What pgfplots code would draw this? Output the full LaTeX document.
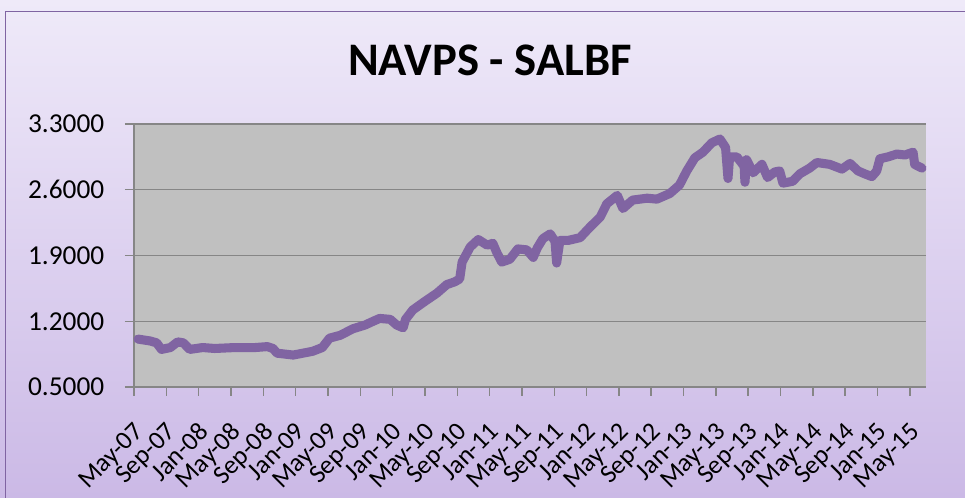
\documentclass[border=0pt]{standalone}
\usepackage{pgfplots}
\pgfplotsset{compat=1.18}
\usepackage{fontspec}
\setmainfont{Carlito}
\definecolor{bgtop}{HTML}{EFEAF9}
\definecolor{bgbot}{HTML}{CBB9E6}
\definecolor{framec}{HTML}{8064A2}
\definecolor{plotbg}{HTML}{C0C0C0}
\definecolor{gridc}{HTML}{868686}
\definecolor{linec}{HTML}{8064A2}
\begin{document}
\begin{tikzpicture}
\useasboundingbox (0,0) rectangle (723.75pt,373.5pt);
\clip (0,0) rectangle (723.75pt,373.5pt);
\shade[top color=bgtop,bottom color=bgbot] (0,0) rectangle (723.75pt,373.5pt);
\draw[framec, line width=1.3pt] (4.1pt,-15pt) rectangle (745pt,364.9pt);
\node[font=\bfseries\fontsize{35}{40}\selectfont] at (367.5pt,328.5pt) {NAVPS - SALBF};
\begin{axis}[
  at={(100.5pt,83.25pt)}, anchor=south west,
  scale only axis, width=594pt, height=197.25pt,
  xmin=0, xmax=98, ymin=0.5, ymax=3.3,
  axis background/.style={fill=plotbg},
  axis x line*=bottom, axis y line*=left,
  axis line style={gridc, line width=1.1pt},
  tick style={gridc, line width=1.1pt},
  tick align=outside, major tick length=6.75pt,
  ytick={0.5,1.2,1.9,2.6,3.3},
  ymajorgrids, grid style={gridc, line width=1.1pt},
  xtick={0,4,...,96},
  xticklabels={May-07,Sep-07,Jan-08,May-08,Sep-08,Jan-09,May-09,Sep-09,Jan-10,May-10,Sep-10,Jan-11,May-11,Sep-11,Jan-12,May-12,Sep-12,Jan-13,May-13,Sep-13,Jan-14,May-14,Sep-14,Jan-15,May-15},
  x tick label style={yshift=-18.5pt, xshift=-1pt, rotate=45, anchor=north east, inner sep=0pt, font=\fontsize{19.5}{23}\selectfont},
  y tick label style={font=\fontsize{20.5}{23}\selectfont, xshift=-12pt},
  /pgf/number format/assume math mode=true,
  yticklabel style={/pgf/number format/.cd, fixed, fixed zerofill, precision=4},
  clip=false,
]
\addplot[linec, line width=6.8pt, line join=round, line cap=round] table {
x y
0.5 1.01
2.0 0.99
2.8 0.97
3.4 0.90
4.5 0.92
5.4 0.98
6.1 0.97
6.9 0.90
8.5 0.92
10.0 0.91
12.5 0.92
15.0 0.92
16.5 0.93
17.2 0.91
17.7 0.86
19.7 0.84
22.1 0.88
23.3 0.92
24.2 1.02
25.5 1.05
27.1 1.12
28.6 1.16
29.6 1.20
30.4 1.23
31.7 1.22
32.5 1.16
33.3 1.13
33.6 1.22
34.5 1.32
35.8 1.40
37.5 1.50
38.7 1.59
39.7 1.62
40.3 1.65
40.6 1.83
41.6 1.99
42.6 2.07
43.7 2.01
44.4 2.03
44.9 1.93
45.5 1.83
46.5 1.86
47.5 1.97
48.6 1.96
49.4 1.88
49.9 1.98
50.6 2.08
51.5 2.13
52.1 2.05
52.3 1.82
52.7 2.06
53.7 2.06
55.2 2.09
56.4 2.20
57.7 2.31
58.5 2.45
59.8 2.54
60.5 2.40
61.7 2.49
63.5 2.51
64.7 2.50
66.3 2.56
67.5 2.65
68.4 2.80
69.4 2.94
70.4 3.00
71.5 3.10
72.5 3.14
73.2 3.05
73.5 2.72
73.7 2.95
74.6 2.95
75.5 2.85
75.6 2.68
75.8 2.92
76.6 2.78
77.7 2.87
78.4 2.73
79.3 2.79
79.9 2.80
80.3 2.67
81.5 2.69
82.4 2.77
83.6 2.83
84.5 2.89
86.1 2.87
87.6 2.82
88.6 2.88
89.6 2.80
90.4 2.77
91.3 2.74
91.9 2.80
92.3 2.93
93.3 2.95
94.4 2.98
95.4 2.97
96.4 3.00
96.6 2.87
97.5 2.83
};
\end{axis}
\end{tikzpicture}
\end{document}
